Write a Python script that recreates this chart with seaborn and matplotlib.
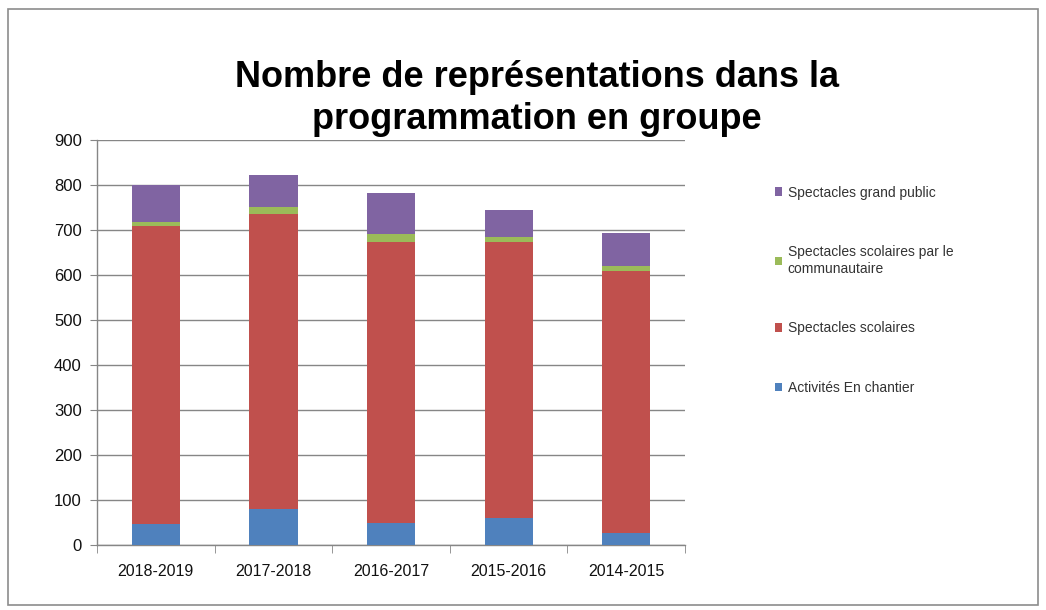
import numpy as np
import pandas as pd
import matplotlib
matplotlib.use("Agg")
import matplotlib.pyplot as plt
import seaborn as sns
from matplotlib.patches import Rectangle, Patch

seasons = ["2018-2019", "2017-2018", "2016-2017", "2015-2016", "2014-2015"]
chantier = [47, 80, 48, 60, 26]
scolaires = [662, 655, 626, 614, 583]
communautaire = [8, 17, 16, 11, 10]
grand_public = [83, 70, 91, 60, 75]

series_names = ["Activités En chantier", "Spectacles scolaires",
                "Spectacles scolaires par le\ncommunautaire",
                "Spectacles grand public"]
colors = ["#4F81BD", "#C0504D", "#9BBB59", "#8064A2"]

sns.set_style("white")
plt.rcParams["font.family"] = ["Liberation Sans", "DejaVu Sans"]

df = pd.DataFrame({"season": seasons, "s0": chantier, "s1": scolaires,
                   "s2": communautaire, "s3": grand_public})
# cumulative tops, drawn from the highest layer down
cum = df[["s0", "s1", "s2", "s3"]].cumsum(axis=1)

fig = plt.figure(figsize=(10.46, 6.10), dpi=100)
ax = fig.add_axes([0.0927, 0.1066, 0.5623, 0.664])

for i in [3, 2, 1, 0]:
    sns.barplot(x=df["season"], y=cum[f"s{i}"], color=colors[i], width=0.41,
                saturation=1, ax=ax, linewidth=0, zorder=3)

ax.set_ylim(0, 900)
ax.set_xlim(-0.5, 4.5)
ax.set_yticks(np.arange(0, 901, 100))
ax.yaxis.grid(True, color="#868686", linewidth=1.0, zorder=0)
ax.set_axisbelow(True)
ax.set_xlabel("")
ax.set_ylabel("")
for s in ["top", "right"]:
    ax.spines[s].set_visible(False)
for s in ["left", "bottom"]:
    ax.spines[s].set_color("#868686")
    ax.spines[s].set_linewidth(1.0)

ax.tick_params(axis="y", length=5, color="#868686", labelsize=12, pad=6,
               labelcolor="#111111", left=True)
ax.tick_params(axis="x", which="major", length=0, labelsize=11.5, pad=14,
               labelcolor="#111111")
ax.set_xticks(np.arange(-0.5, 5, 1), minor=True)
ax.tick_params(axis="x", which="minor", length=6, color="#868686", bottom=True)

fig.text(0.513, 0.838, "Nombre de représentations dans la\nprogrammation en groupe",
         ha="center", va="center", fontsize=26, fontweight="bold",
         color="black", linespacing=1.25)

handles = [Patch(facecolor=colors[i], edgecolor="none", label=series_names[i])
           for i in [3, 2, 1, 0]]
fig.legend(handles=handles, loc="upper left",
           bbox_to_anchor=(762 / 1046, 1 - 173 / 610), frameon=False,
           fontsize=10, handlelength=0.55, handleheight=0.55, handletextpad=0.4,
           labelspacing=3.3, labelcolor="#333333")

fig.patches.append(Rectangle((0.008, 0.008), 0.984, 0.978,
                             transform=fig.transFigure, fill=False,
                             edgecolor="#8c8c8c", linewidth=1.2))

fig.savefig("out.png", dpi=100)
